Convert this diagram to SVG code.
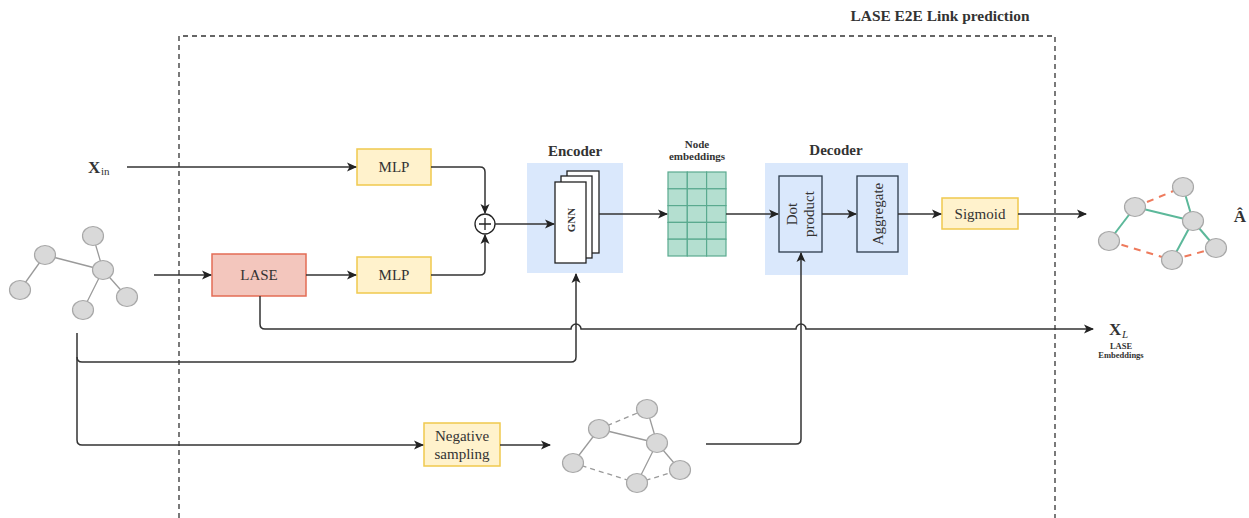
<svg xmlns="http://www.w3.org/2000/svg" width="1249" height="518" viewBox="0 0 1249 518">
<style>
text{font-family:"Liberation Serif","Times New Roman",serif;fill:#333}
.b{font-weight:bold}
.conn{fill:none;stroke:#333;stroke-width:1.5}
.yel{fill:#fff2cc;stroke:#f0c94e;stroke-width:1.5}
.blue{fill:#dae8fc;stroke:none}
.dbox{fill:#dae8fc;stroke:#2b3a4a;stroke-width:1.3}
.page{fill:#fff;stroke:#222;stroke-width:1.3}
.gn{fill:#d9d9d9;stroke:#a8a8a8;stroke-width:1.2}
.ge{stroke:#9a9a9a;stroke-width:1.3;fill:none}
.gd{stroke:#9a9a9a;stroke-width:1.3;stroke-dasharray:5 4;fill:none}
.te{stroke:#5cb89a;stroke-width:2;fill:none}
.oe{stroke:#ee7a5c;stroke-width:2;stroke-dasharray:7 6;fill:none}
.mat{fill:#b4dfd0;stroke:#5aaa8f;stroke-width:1.2}
</style>
<defs>
<marker id="arr" viewBox="0 0 10 10" refX="9" refY="5" markerWidth="10" markerHeight="10" markerUnits="userSpaceOnUse" orient="auto">
<path d="M0,0.5 L10,5 L0,9.5 L2.5,5 z" fill="#222"/>
</marker>
</defs>

<g id="frame">
<path d="M179,518 V36 H1055 V518" fill="none" stroke="#333" stroke-width="1.3" stroke-dasharray="5 4"/>
<text x="940" y="21" text-anchor="middle" class="b" font-size="15.4">LASE E2E Link prediction</text>
</g>

<g id="xin">
<text x="88" y="173" class="b" font-size="17">X</text>
<text x="101" y="175" font-size="11">in</text>
</g>

<g id="input-graph">
<line class="ge" x1="45" y1="255" x2="20" y2="290"/>
<line class="ge" x1="45" y1="255" x2="103" y2="270"/>
<line class="ge" x1="93" y1="236" x2="103" y2="270"/>
<line class="ge" x1="103" y1="270" x2="83" y2="310"/>
<line class="ge" x1="103" y1="270" x2="127" y2="297"/>
<ellipse class="gn" cx="93" cy="236" rx="10.5" ry="9.5"/>
<ellipse class="gn" cx="45" cy="255" rx="10.5" ry="9.5"/>
<ellipse class="gn" cx="103" cy="270" rx="10.5" ry="9.5"/>
<ellipse class="gn" cx="20" cy="290" rx="10.5" ry="9.5"/>
<ellipse class="gn" cx="83" cy="310" rx="10.5" ry="9.5"/>
<ellipse class="gn" cx="127" cy="297" rx="10.5" ry="9.5"/>
</g>

<g id="lase">
<rect x="212" y="254" width="94" height="42" fill="#f3c6bd" stroke="#e36c55" stroke-width="1.5"/>
<text x="259" y="280" text-anchor="middle" font-size="15">LASE</text>
</g>

<g id="mlp1">
<rect class="yel" x="357" y="149" width="74" height="36"/>
<text x="394" y="172" text-anchor="middle" font-size="15">MLP</text>
</g>
<g id="mlp2">
<rect class="yel" x="357" y="257" width="74" height="36"/>
<text x="394" y="280" text-anchor="middle" font-size="15">MLP</text>
</g>

<g id="sum">
<circle cx="485" cy="224" r="10" fill="#fff" stroke="#222" stroke-width="1.3"/>
<path d="M479,224 H491 M485,218 V230" stroke="#222" stroke-width="1.3"/>
</g>

<g id="encoder">
<rect class="blue" x="527" y="163" width="96" height="110"/>
<text x="575" y="156" text-anchor="middle" class="b" font-size="15">Encoder</text>
<rect class="page" x="567" y="171" width="32" height="82"/>
<rect class="page" x="561" y="176" width="31" height="82"/>
<rect class="page" x="555" y="182" width="31" height="81"/>
<text transform="translate(570.5,220) rotate(-90)" x="0" y="4" text-anchor="middle" class="b" font-size="11">GNN</text>
</g>

<g id="node-embeddings">
<text x="697" y="148" text-anchor="middle" class="b" font-size="11">Node</text>
<text x="697" y="160" text-anchor="middle" class="b" font-size="11">embeddings</text>
<rect class="mat" x="668" y="172" width="19.3" height="16.8"/>
<rect class="mat" x="687.3" y="172" width="19.3" height="16.8"/>
<rect class="mat" x="706.6" y="172" width="19.4" height="16.8"/>
<rect class="mat" x="668" y="188.8" width="19.3" height="16.8"/>
<rect class="mat" x="687.3" y="188.8" width="19.3" height="16.8"/>
<rect class="mat" x="706.6" y="188.8" width="19.4" height="16.8"/>
<rect class="mat" x="668" y="205.6" width="19.3" height="16.8"/>
<rect class="mat" x="687.3" y="205.6" width="19.3" height="16.8"/>
<rect class="mat" x="706.6" y="205.6" width="19.4" height="16.8"/>
<rect class="mat" x="668" y="222.4" width="19.3" height="16.8"/>
<rect class="mat" x="687.3" y="222.4" width="19.3" height="16.8"/>
<rect class="mat" x="706.6" y="222.4" width="19.4" height="16.8"/>
<rect class="mat" x="668" y="239.2" width="19.3" height="16.8"/>
<rect class="mat" x="687.3" y="239.2" width="19.3" height="16.8"/>
<rect class="mat" x="706.6" y="239.2" width="19.4" height="16.8"/>
</g>

<g id="decoder">
<rect class="blue" x="765" y="163" width="143" height="112"/>
<text x="836" y="155" text-anchor="middle" class="b" font-size="15">Decoder</text>
</g>
<g id="dot-product">
<rect class="dbox" x="779" y="176" width="43" height="76"/>
<text transform="translate(800.5,214) rotate(-90)" text-anchor="middle" font-size="15"><tspan x="0" y="-4">Dot</tspan><tspan x="0" y="13">product</tspan></text>
</g>
<g id="aggregate">
<rect class="dbox" x="857" y="176" width="41" height="76"/>
<text transform="translate(877.5,214) rotate(-90)" x="0" y="5" text-anchor="middle" font-size="15">Aggregate</text>
</g>

<g id="sigmoid">
<rect class="yel" x="942" y="198" width="76" height="31"/>
<text x="980" y="219" text-anchor="middle" font-size="15">Sigmoid</text>
</g>

<g id="output-graph">
<line class="te" x1="1135" y1="207" x2="1109" y2="241"/>
<line class="te" x1="1135" y1="207" x2="1193" y2="221"/>
<line class="te" x1="1183" y1="187" x2="1193" y2="221"/>
<line class="te" x1="1193" y1="221" x2="1172" y2="260"/>
<line class="te" x1="1193" y1="221" x2="1216" y2="248"/>
<line class="oe" x1="1135" y1="207" x2="1183" y2="187"/>
<line class="oe" x1="1109" y1="241" x2="1172" y2="260"/>
<line class="oe" x1="1172" y1="260" x2="1216" y2="248"/>
<ellipse class="gn" cx="1183" cy="187" rx="10.5" ry="9.5"/>
<ellipse class="gn" cx="1135" cy="207" rx="10.5" ry="9.5"/>
<ellipse class="gn" cx="1193" cy="221" rx="10.5" ry="9.5"/>
<ellipse class="gn" cx="1109" cy="241" rx="10.5" ry="9.5"/>
<ellipse class="gn" cx="1172" cy="260" rx="10.5" ry="9.5"/>
<ellipse class="gn" cx="1216" cy="248" rx="10.5" ry="9.5"/>
</g>

<g id="a-hat">
<text x="1240" y="222" text-anchor="middle" class="b" font-size="17">Â</text>
</g>

<g id="xl">
<text x="1109" y="335" class="b" font-size="17">X</text>
<text x="1122" y="338" font-style="italic" font-size="11">L</text>
<text x="1121" y="349" text-anchor="middle" class="b" font-size="8.5">LASE</text>
<text x="1121" y="358" text-anchor="middle" class="b" font-size="8.5">Embeddings</text>
</g>

<g id="negative-sampling">
<rect class="yel" x="424" y="423" width="76" height="43"/>
<text x="462" y="441" text-anchor="middle" font-size="15">Negative</text>
<text x="462" y="459" text-anchor="middle" font-size="15">sampling</text>
</g>

<g id="negative-graph">
<line class="ge" x1="599" y1="429" x2="573" y2="463"/>
<line class="ge" x1="599" y1="429" x2="657" y2="443"/>
<line class="ge" x1="647" y1="409" x2="657" y2="443"/>
<line class="ge" x1="657" y1="443" x2="637" y2="483"/>
<line class="ge" x1="657" y1="443" x2="680" y2="470"/>
<line class="gd" x1="599" y1="429" x2="647" y2="409"/>
<line class="gd" x1="573" y1="463" x2="637" y2="483"/>
<line class="gd" x1="637" y1="483" x2="680" y2="470"/>
<ellipse class="gn" cx="647" cy="409" rx="10.5" ry="9.5"/>
<ellipse class="gn" cx="599" cy="429" rx="10.5" ry="9.5"/>
<ellipse class="gn" cx="657" cy="443" rx="10.5" ry="9.5"/>
<ellipse class="gn" cx="573" cy="463" rx="10.5" ry="9.5"/>
<ellipse class="gn" cx="637" cy="483" rx="10.5" ry="9.5"/>
<ellipse class="gn" cx="680" cy="470" rx="10.5" ry="9.5"/>
</g>

<g id="connectors">
<path class="conn" d="M127,167 H356" marker-end="url(#arr)"/>
<path class="conn" d="M154,275 H211" marker-end="url(#arr)"/>
<path class="conn" d="M306,275 H356" marker-end="url(#arr)"/>
<path class="conn" d="M431,167 H480 Q485,167 485,172 V213" marker-end="url(#arr)"/>
<path class="conn" d="M431,275 H480 Q485,275 485,270 V235" marker-end="url(#arr)"/>
<path class="conn" d="M495,224 H554" marker-end="url(#arr)"/>
<path class="conn" d="M599,214 H667" marker-end="url(#arr)"/>
<path class="conn" d="M726,214 H778" marker-end="url(#arr)"/>
<path class="conn" d="M822,214 H856" marker-end="url(#arr)"/>
<path class="conn" d="M898,214 H941" marker-end="url(#arr)"/>
<path class="conn" d="M1018,214 H1086" marker-end="url(#arr)"/>
<path class="conn" d="M260,296 V324 Q260,329 265,329 H571 A5,5 0 0 1 581,329 H796 A5,5 0 0 1 806,329 H1093" marker-end="url(#arr)"/>
<path class="conn" d="M77,333 V357 Q77,362 82,362 H571 Q576,362 576,357 V274" marker-end="url(#arr)"/>
<path class="conn" d="M77,357 V440 Q77,445 82,445 H423" marker-end="url(#arr)"/>
<path class="conn" d="M500,445 H550" marker-end="url(#arr)"/>
<path class="conn" d="M706,444 H796 Q801,444 801,439 V253" marker-end="url(#arr)"/>
</g>
</svg>
